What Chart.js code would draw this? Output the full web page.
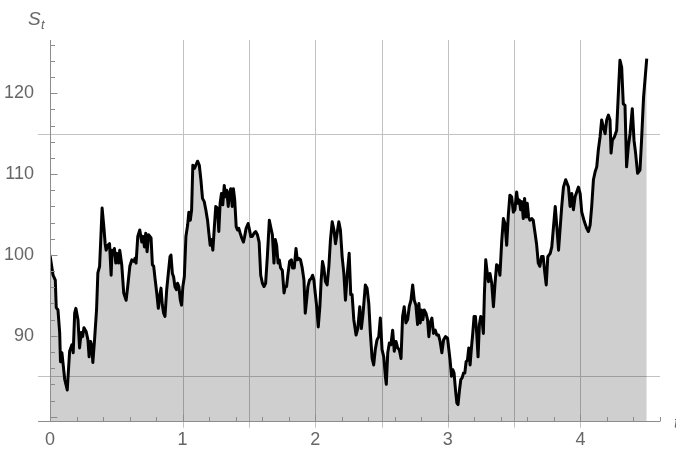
<!DOCTYPE html>
<html><head><meta charset="utf-8">
<script src="https://cdn.jsdelivr.net/npm/chart.js@4"></script>
<style>html,body{margin:0;padding:0;background:#fff}#wrap{width:676px;height:450px}</style>
</head><body><div id="wrap"><canvas id="c" width="676" height="450"></canvas></div>
<script>
const times = [
0,0.023,0.040,0.047,0.060,0.073,0.079,0.090,0.111,0.130,
0.148,0.165,0.175,0.186,0.195,0.211,0.223,0.235,0.246,0.256,
0.273,0.286,0.295,0.306,0.316,0.323,0.336,0.351,0.361,0.374,
0.386,0.393,0.406,0.416,0.423,0.436,0.449,0.461,0.468,0.479,
0.486,0.496,0.506,0.517,0.526,0.541,0.556,0.574,0.586,0.602,
0.617,0.632,0.641,0.649,0.662,0.677,0.692,0.702,0.712,0.722,
0.732,0.744,
0.762,0.772,0.782,0.792,0.805,0.817,0.827,0.837,0.847,0.857,
0.867,0.880,0.892,0.905,0.912,0.923,0.932,0.942,0.953,0.962,
0.972,0.983,0.992,1.002,1.013,1.025,1.038,1.047,1.058,1.068,
1.077,1.088,1.100,1.113,1.126,1.138,1.150,1.163,1.175,1.188,
1.198,1.208,1.218,1.228,1.238,1.250,1.263,1.273,1.283,1.293,
1.303,1.314,1.323,1.333,1.344,1.353,1.363,1.374,1.383,1.393,
1.404,1.414,1.423,1.434,1.446,1.459,1.468,1.479,1.494,
1.502,1.514,1.526,1.539,1.551,1.564,1.577,1.589,1.602,1.614,
1.626,1.639,1.654,1.664,1.677,1.689,1.699,1.709,1.720,1.729,
1.739,1.752,1.765,1.774,1.784,1.795,1.807,1.820,1.829,1.842,
1.855,1.865,1.877,1.889,1.902,1.915,1.925,1.935,1.945,1.957,
1.970,1.980,1.990,2.000,2.010,2.023,2.035,2.045,2.055,2.065,
2.077,2.090,2.103,2.115,2.128,2.141,2.153,2.165,2.178,2.190,
2.203,2.216,2.228,2.241,2.256,2.268,2.278,
2.291,2.308,2.321,2.336,2.348,2.361,2.378,2.391,2.404,2.416,
2.429,2.441,2.453,2.466,2.479,2.491,2.504,2.517,2.529,2.536,
2.547,2.559,2.571,2.584,2.596,2.609,2.622,2.634,2.647,2.659,
2.671,2.684,2.697,2.709,2.722,2.735,2.747,2.759,2.772,2.782,
2.792,2.802,2.812,2.822,2.835,2.847,2.857,2.867,2.880,2.892,
2.905,2.917,2.930,2.942,2.955,2.968,2.983,2.998,
3.005,3.017,3.028,3.038,3.047,3.058,3.068,3.077,3.088,3.098,
3.108,3.118,3.128,3.138,3.148,3.158,3.168,3.178,3.188,3.198,
3.208,3.218,3.228,3.238,3.248,3.258,3.268,3.276,3.286,3.295,
3.306,3.318,3.331,3.344,3.356,3.368,3.381,3.393,3.406,3.419,
3.431,3.444,3.456,3.468,3.481,3.494,3.506,3.519,3.529,3.539,
3.549,3.559,3.569,3.579,3.589,3.599,3.609,3.619,3.634,3.644,
3.656,3.669,3.682,3.694,3.707,3.719,3.732,3.742,
3.754,3.772,3.784,3.810,3.822,3.835,3.859,3.872,3.889,3.910,
3.922,3.935,3.947,3.960,3.985,3.998,4.010,4.030,4.047,4.060,
4.073,4.085,4.098,4.111,4.123,4.135,4.148,4.160,4.173,4.186,
4.198,4.211,4.223,4.231,4.241,4.256,4.273,4.286,4.298,4.311,
4.323,4.336,4.348,4.361,4.374,4.391,4.404,4.416,4.431,4.449,
4.461,4.476,4.500
];
const prices = [
100,97.5,96.9,93.5,93.2,90.4,86.8,87.9,84.6,83.3,
88.1,88.9,87.9,92.8,93.4,92,88.5,90.4,89.9,91,
90.5,89.5,87.4,89.3,88.7,86.7,89.5,93.2,97.8,98.6,
103.1,105.8,103.5,101.4,100.6,101.2,101.4,97.5,100.6,100,
100.8,99,100.2,99,100.6,98.8,95.3,94.4,96.1,98.6,
99.4,99.2,99.6,99,102.3,103.1,101.6,102.3,101,102.7,
100.4,102.5,
102.1,98.8,98.6,97.1,95.3,93.4,94.9,95.9,93.8,92.8,
92.4,95.7,97.7,99.8,100,97.7,97.3,96.1,95.7,96.5,
96.1,94.4,93.8,96.1,97.3,102.3,103.7,105.3,104.3,105.6,
111.1,110.7,111.1,111.6,111.1,109.3,107,106.6,105.6,104.3,
102.7,101.2,101.9,100.6,103.1,106,105.8,102.9,106.4,107.6,
106.2,108.6,107.2,108,106,107.6,108.2,106,108.2,106.8,
103.5,103.1,103.3,102.7,102.1,101.6,102.3,103.3,103.9,
103.3,102.3,102.3,102.7,102.9,102.5,101.6,97.5,96.5,96.1,
96.5,99.8,104.3,103.5,102.5,99,101.9,101.2,99,99.4,
98.4,98.1,95.3,96.1,96.1,97.7,99.2,99.4,98.4,98.4,
100.8,99.4,99.6,99.4,98.4,96.9,92.8,94.4,96.1,96.9,
97.1,97.5,96.9,95.3,93.8,91.1,93.6,96.9,99.2,98.4,
96.7,96.3,98.6,101.9,104.1,103.1,101.4,102.7,104.1,103.1,
99.8,97.7,94.4,97.5,100.2,95.1,95.1,
92,90.1,90.9,93.6,90.9,92.8,96.3,95.9,94,90.3,
87.2,86.4,88.3,89.5,89.9,92.2,88.3,87.4,85,84,
87.9,89.1,88.9,90.7,88.1,89.3,88.5,88.3,87.2,92.4,
93.6,91.6,92,93.6,94.4,96.3,94.4,93.8,91.4,94,
91.6,93.2,92,93.2,92.8,92,89.9,91.6,92.2,90.3,
90.7,90.1,90.1,89.3,87.9,89.5,89.9,89.7,
88.7,87,85,85.8,85.4,83.3,81.7,81.5,83.3,84.6,
84.8,85.4,85.4,86.8,87,88.5,86.4,88.5,90.3,92.4,
92.4,90.3,87.4,91.4,92.4,92,90.3,95.3,99.4,98.1,
96.7,97.7,96.5,93.6,96.5,98.8,98.6,97.5,101.6,104.5,
103.9,101.2,104.9,107.4,107.2,105.3,105.6,107.8,106.4,106.8,
105.6,106.6,104.5,107,104.7,106.4,104.7,104.3,104.5,104.3,
102.9,101.4,99,98.6,99.8,99.8,97.7,96.3,
99.8,100.2,101,106,103.5,100.6,106,108.4,109.3,108.4,
106,107.6,105.6,107.2,108.4,107.6,105.3,104.1,103.3,102.9,
103.7,106,109.3,110.3,110.9,113,114.6,116.7,115.8,115,
116.7,117.3,116.7,112.6,114.2,114.6,115.4,120,124.1,123.2,
118.7,118.5,110.9,113.4,115,118.1,114.2,112.6,110.1,110.5,
114.2,119.5,124.3
];
const xTickLabels = [0, 1, 2, 3, 4];
const yTickLabels = [90, 100, 110, 120];
const yMajorTicks = [80, 90, 100, 110, 120];
const xGridLines = [1, 1.5, 2, 2.5, 3, 3.5, 4];
const yGridLines = [85, 115];
const yAxisTitle = 'S';
const yAxisSub = 't';
const xAxisTitle = 't';

const LABEL_FONT = '"Liberation Sans", Arial, sans-serif';
const AXIS_COLOR = '#8c8c8c';
const GRID_COLOR = '#c2c2c2';

const points = times.map((t, i) => ({x: t, y: prices[i]}));

const mmaPlugin = {
  id: 'mmaAxes',
  beforeDatasetsDraw(chart) {
    const {ctx, scales: {x, y}, chartArea: ca} = chart;
    ctx.save();
    ctx.strokeStyle = GRID_COLOR;
    ctx.lineWidth = 1;
    ctx.beginPath();
    xGridLines.forEach(v => {
      const px = Math.round(x.getPixelForValue(v)) + 0.5;
      ctx.moveTo(px, ca.top);
      ctx.lineTo(px, ca.bottom + 6);
    });
    yGridLines.forEach(v => {
      const py = Math.round(y.getPixelForValue(v)) + 0.5;
      ctx.moveTo(ca.left - 12, py);
      ctx.lineTo(ca.right, py);
    });
    ctx.stroke();
    ctx.restore();
  },
  afterDatasetsDraw(chart) {
    const {ctx, scales: {x, y}, chartArea: ca} = chart;
    ctx.save();
    ctx.strokeStyle = AXIS_COLOR;
    ctx.lineWidth = 1;
    const x0 = Math.round(x.getPixelForValue(0)) + 0.5;
    const yb = Math.round(ca.bottom) - 0.5;
    ctx.beginPath();
    ctx.moveTo(ca.left - 12, yb); ctx.lineTo(ca.right, yb);
    ctx.moveTo(x0, ca.top); ctx.lineTo(x0, yb);
    for (let v = 80; v <= 126; v += 2) {
      const py = Math.round(y.getPixelForValue(v)) + 0.5;
      const len = yMajorTicks.includes(v) ? 7 : 4.5;
      ctx.moveTo(x0, py); ctx.lineTo(x0 + len, py);
    }
    for (let i = 1; i <= 23; i++) {
      const v = i / 5;
      const px = Math.round(x.getPixelForValue(v)) + 0.5;
      const len = (i % 5 === 0) ? 7 : 4.5;
      ctx.moveTo(px, yb); ctx.lineTo(px, yb - len);
    }
    ctx.stroke();
    ctx.fillStyle = '#666666';
    ctx.textBaseline = 'alphabetic';
    ctx.textAlign = 'left';
    ctx.font = 'italic 19px ' + LABEL_FONT;
    ctx.fillText(yAxisTitle, 28, 25);
    ctx.font = 'italic 13px ' + LABEL_FONT;
    ctx.fillText(yAxisSub, 41, 29);
    ctx.font = 'italic 17px ' + LABEL_FONT;
    ctx.fillText(xAxisTitle, 674, 428);
    ctx.restore();
  }
};

new Chart(document.getElementById('c'), {
  type: 'line',
  data: {
    datasets: [{
      data: points,
      borderColor: '#000000',
      borderWidth: 3,
      borderJoinStyle: 'round',
      backgroundColor: 'rgba(0,0,0,0.19)',
      fill: 'start',
      pointRadius: 0,
      tension: 0
    }]
  },
  options: {
    responsive: false,
    animation: false,
    devicePixelRatio: 1,
    layout: {padding: {left: 0, top: 40, right: 16, bottom: 0}},
    plugins: {legend: {display: false}, tooltip: {enabled: false}},
    scales: {
      x: {
        type: 'linear',
        min: 0,
        max: 4.6,
        afterBuildTicks: s => { s.ticks = xTickLabels.map(v => ({value: v})); },
        afterFit: s => { s.height = 28.3; },
        grid: {display: false},
        border: {display: false},
        ticks: {
          font: {family: LABEL_FONT, size: 18},
          color: '#666666',
          padding: 0,
          maxRotation: 0,
          autoSkip: false,
          callback: v => String(v)
        }
      },
      y: {
        type: 'linear',
        min: 79.38,
        max: 126.59,
        afterBuildTicks: s => { s.ticks = yTickLabels.map(v => ({value: v})); },
        afterFit: s => { s.width = 50; },
        grid: {display: false},
        border: {display: false},
        ticks: {
          font: {family: LABEL_FONT, size: 18},
          color: '#666666',
          padding: 8,
          autoSkip: false,
          callback: v => String(v)
        }
      }
    }
  },
  plugins: [mmaPlugin]
});
</script>
</body></html>
